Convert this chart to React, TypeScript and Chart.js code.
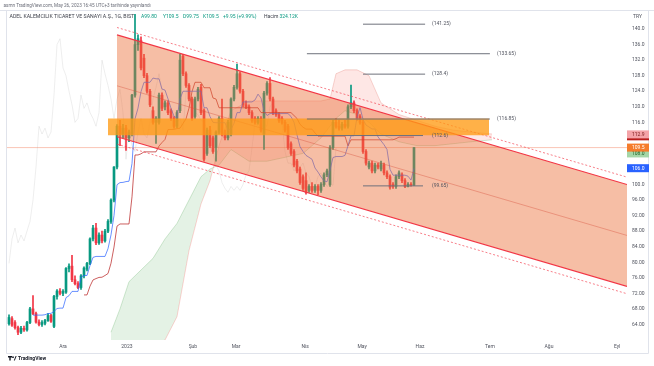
import React, { useEffect, useRef } from 'react';
import { Chart, registerables } from 'chart.js';
Chart.register(...registerables);

// ---- candle data (daily, BIST:ADEL) ----
const opens = [
  64.2,65.5,64.5,63.2,62.0,63.0,62.6,64.5,68.0,66.8,
  64.6,64.0,64.3,65.0,66.3,63.5,71.2,72.6,72.0,72.3,
  78.4,79.0,75.5,74.5,73.5,76.5,78.2,79.7,86.0,88.8,
  85.0,87.0,85.5,88.0,90.5,96.0,104.5,115.0,113.0,114.5,
  112.0,113.0,123.0,136.0,137.0,132.5,128.0,124.0,119.0,116.0,
  116.0,123.0,120.0,121.0,119.0,117.0,115.0,119.0,133.0,128.5,
  125.5,122.0,117.5,122.0,125.0,119.0,108.0,114.0,112.0,109.5,
  113.5,117.0,113.0,112.0,113.0,122.0,125.0,128.5,124.0,120.5,
  120.0,118.5,117.0,116.0,117.0,113.0,123.5,126.0,122.0,119.0,
  118.0,117.0,116.0,115.0,110.5,108.5,106.0,104.0,102.0,101.0,
  98.5,99.5,98.5,99.5,98.5,100.0,102.5,100.0,109.5,116.0,
  115.0,114.5,115.5,115.0,120.0,121.0,119.0,117.5,116.0,108.5,
  104.5,105.5,103.5,105.0,104.0,105.0,103.0,102.0,100.0,99.5,
  102.0,102.5,101.0,99.5,100.0,99.8,
];
const highs = [
  66.5,66.0,65.0,63.6,63.5,63.6,64.8,68.4,71.4,67.2,
  65.2,65.0,65.3,66.8,66.6,71.5,73.0,73.2,73.0,78.6,
  79.6,81.8,76.5,75.0,76.8,78.8,80.0,86.3,89.5,90.0,
  87.6,88.0,88.5,91.0,96.3,104.6,115.4,116.5,115.5,115.2,
  114.0,123.2,143.8,138.5,138.0,133.5,128.6,124.5,120.0,117.5,
  123.5,123.6,121.5,121.5,119.5,117.5,119.0,133.5,133.5,129.0,
  126.0,122.5,122.5,125.0,125.8,119.5,114.5,115.0,112.5,113.8,
  117.5,122.0,114.0,116.5,122.3,125.5,131.0,129.0,124.5,121.5,
  120.5,119.0,117.5,117.5,117.5,124.0,126.5,127.5,122.5,119.5,
  118.5,117.5,116.5,115.5,111.0,109.0,106.5,104.5,102.5,103.0,
  100.0,100.5,100.0,100.0,100.5,103.0,104.0,110.0,116.5,117.0,
  116.5,116.0,116.5,120.5,125.6,121.5,119.5,118.0,116.5,109.0,
  106.0,106.0,105.5,105.5,106.0,105.5,103.5,102.5,100.5,102.5,
  103.5,103.0,101.5,100.5,100.5,109.5,
];
const lows = [
  63.8,63.5,62.8,61.4,61.6,62.2,62.3,64.2,66.5,64.3,
  63.6,63.5,63.9,64.8,64.5,63.2,70.5,71.6,71.4,72.0,
  77.5,75.0,74.2,73.2,73.0,76.0,77.8,79.4,85.5,84.5,
  84.6,85.0,85.2,87.6,90.0,95.5,104.0,110.0,112.0,108.8,
  111.0,112.5,122.5,134.5,129.5,127.5,123.5,120.0,115.5,110.6,
  115.5,119.0,119.2,118.0,116.5,114.5,114.6,118.5,128.0,125.0,
  121.5,116.5,117.0,121.5,118.0,106.0,107.5,109.5,108.0,106.0,
  113.0,112.5,111.5,111.5,112.5,121.5,124.5,123.5,120.0,119.5,
  118.0,116.0,115.5,115.5,113.5,109.0,123.0,121.5,118.0,117.5,
  116.0,115.5,113.5,109.0,107.5,104.5,103.0,100.0,98.5,97.5,
  98.0,98.0,98.0,97.4,98.0,99.5,102.0,99.5,109.0,114.5,
  114.0,114.0,114.5,114.5,119.5,118.5,116.5,115.5,108.0,105.0,
  104.0,103.0,103.0,104.0,103.5,102.5,101.5,98.8,99.0,99.0,
  101.5,100.5,99.2,99.4,99.6,99.75,
];
const closes = [
  65.8,63.8,63.2,62.0,63.0,62.6,64.5,68.0,66.8,64.6,
  64.0,64.5,65.0,66.3,64.8,71.2,72.6,72.0,72.5,78.4,
  79.0,75.5,74.5,73.5,76.5,78.5,79.7,86.0,88.8,85.0,
  87.0,85.5,88.0,90.5,96.0,104.5,115.0,113.0,114.5,112.0,
  113.5,123.0,136.0,137.5,130.0,128.0,124.0,120.5,116.0,117.0,
  123.0,119.6,121.0,118.5,117.0,115.0,118.5,132.0,128.5,125.5,
  122.0,117.0,122.0,124.5,118.5,106.5,114.0,110.0,108.5,113.5,
  117.0,113.0,112.0,116.0,122.0,125.0,128.5,124.0,120.5,120.0,
  118.5,116.5,116.0,117.0,114.0,123.5,126.0,122.0,118.5,118.0,
  116.5,116.0,114.0,109.5,108.0,105.0,103.5,100.5,99.0,98.0,
  99.5,98.5,99.5,98.5,100.0,102.5,103.5,109.5,116.0,115.0,
  114.5,115.5,115.0,120.0,121.0,119.0,117.0,116.0,108.5,105.5,
  105.5,103.5,105.0,104.5,105.5,103.0,102.0,99.3,99.5,102.0,
  103.0,101.0,99.5,100.0,99.8,109.5,
];

// ---- Ichimoku cloud (bar index, price) ----
const cloudIdx = [34,37,40,44,48,52,56,60,64,67,70,74,80,86,92,98,104,107,109,112,116,120,124,130,136,142,148,154,161];
const spanA = [62,68,75,78,81,86,90,96,102,104,105,109,106,106,107,108,112,115,117,119,118,116,113,111,110,110,110.5,111,111.5];
const spanB = [50,52,54,56,58,60,66,83,95,101,110,119,121.5,121.5,121.5,121.5,121.5,122,128.5,129.5,129.5,128,121,118,116.5,115,114,113.5,113];

// ---- axes ----
const monthLabels = ['Ara','2023','Şub','Mar','Nis','May','Haz','Tem','Ağu','Eyl'];
const monthPos = [18, 39.3, 61.3, 75.7, 98.7, 117.7, 137, 160.3, 180, 202.7];
const priceTicks = [64,68,72,76,80,84,88,92,96,100,116,120,124,128,132,136,140];

// ---- drawings ----
const channelX = [36, 206];
const channelUpper = [138.5, 100.0];
const channelLower = [112.3, 73.8];
const channelUpperOuter = [140.4, 101.9];
const channelLowerOuter = [110.4, 71.9];
const bandX = [33, 160];
const bandTop = 117.0;
const bandBottom = 112.7;
const levelValues = [141.25, 133.65, 128.4, 116.85, 112.6, 99.65];
const levelFrom = [118, 99.3, 118, 99.3, 99.3, 118];
const levelTo = [138.7, 160.3, 138.7, 160.3, 138, 138];
const levelLabelX = [141, 162.7, 141, 162.7, 141, 141];
const lastPrice = 109.5;

// right-axis value labels
const axisLabelText = ['112.4', '112.9', '108.0', '109.5', '106.0'];
const axisLabelValue = [112.4, 112.9, 108.0, 109.5, 104.2];
const axisLabelBg = ['#B71C1C', '#F4A3A8', '#A5D6A7', '#F57C2C', '#2962FF'];
const axisLabelFg = ['#B71C1C', '#7A1A1A', '#1B5E20', '#FFFFFF', '#FFFFFF'];

// header legend
const legendParts = ['A99.80', 'Y109.5', 'D99.75', 'K109.5', '+9.95 (+9.99%)'];
const legendX = [141, 163, 183, 203, 223];

const UP = '#089981';
const DOWN = '#F23645';
const FONT = 'Roboto, "DejaVu Sans", sans-serif';

function donchianMid(period: number) {
  return closes.map((_, i) => {
    if (i < period - 1) return { x: i, y: null as number | null };
    let hi = -Infinity;
    let lo = Infinity;
    for (let j = i - period + 1; j <= i; j++) {
      hi = Math.max(hi, highs[j]);
      lo = Math.min(lo, lows[j]);
    }
    return { x: i, y: (hi + lo) / 2 };
  });
}

const seg = (xs: number[], ys: number[]) => xs.map((x, i) => ({ x, y: ys[i] }));

function fitText(ctx: CanvasRenderingContext2D, text: string, width: number, weight = '') {
  ctx.font = `${weight}10px ${FONT}`;
  const w = ctx.measureText(text).width;
  const size = (10 * width) / w;
  ctx.font = `${weight}${size.toFixed(2)}px ${FONT}`;
}

const overlayPlugin = {
  id: 'overlay',
  afterDraw(chart: any) {
    const { ctx, scales } = chart;
    const x = scales.x;
    const y = scales.y;
    ctx.save();
    // frame
    ctx.strokeStyle = '#e0e3eb';
    ctx.lineWidth = 1;
    ctx.beginPath();
    ctx.moveTo(0, 10.5);
    ctx.lineTo(654, 10.5);
    ctx.moveTo(6.5, 10.5);
    ctx.lineTo(6.5, 353.5);
    ctx.lineTo(648.5, 353.5);
    ctx.lineTo(648.5, 10.5);
    ctx.stroke();

    // level labels
    ctx.font = `5px ${FONT}`;
    ctx.fillStyle = '#50535e';
    ctx.textBaseline = 'middle';
    ctx.textAlign = 'left';
    levelValues.forEach((v, i) => {
      const t = '(' + v + ')';
      ctx.fillText(t, x.getPixelForValue(levelLabelX[i]), y.getPixelForValue(v));
    });

    // right-axis labels
    axisLabelText.forEach((t, i) => {
      const cy = y.getPixelForValue(axisLabelValue[i]);
      ctx.fillStyle = axisLabelBg[i];
      ctx.fillRect(627, cy - 4, 22, 8);
      ctx.fillStyle = axisLabelFg[i];
      ctx.font = `5px ${FONT}`;
      ctx.fillText(t, 632, cy + 0.3);
    });
    ctx.fillStyle = '#50535e';
    ctx.font = `5px ${FONT}`;
    ctx.fillText('TRY', 633, 17);

    // header
    ctx.textBaseline = 'middle';
    ctx.fillStyle = '#6a6d78';
    fitText(ctx, 'asmn TradingView.com, May 26, 2023 16:45 UTC+3 tarihinde yayınlandı', 148);
    ctx.fillText('asmn TradingView.com, May 26, 2023 16:45 UTC+3 tarihinde yayınlandı', 3.5, 5.5);
    ctx.fillStyle = '#3b3e48';
    fitText(ctx, 'ADEL KALEMCILIK TICARET VE SANAYI A.Ş., 1G, BIST', 125);
    ctx.fillText('ADEL KALEMCILIK TICARET VE SANAYI A.Ş., 1G, BIST', 9.5, 17);
    ctx.font = `5px ${FONT}`;
    ctx.fillStyle = UP;
    legendParts.forEach((t, i) => ctx.fillText(t, legendX[i], 17));
    ctx.fillStyle = '#3b3e48';
    ctx.fillText('Hacim', 264, 17);
    ctx.fillStyle = UP;
    ctx.fillText('324.12K', 279.5, 17);

    // TradingView logo
    ctx.fillStyle = '#131722';
    ctx.fillRect(8, 356, 4, 1.5);
    ctx.fillRect(9.3, 356, 1.4, 4.5);
    ctx.beginPath();
    ctx.arc(13, 357.2, 0.9, 0, Math.PI * 2);
    ctx.fill();
    ctx.beginPath();
    ctx.moveTo(13.8, 360.5);
    ctx.lineTo(15.6, 356);
    ctx.lineTo(16.6, 356);
    ctx.lineTo(14.8, 360.5);
    ctx.fill();
    ctx.font = `bold 5px ${FONT}`;
    ctx.fillText('TradingView', 18, 358.5);
    ctx.restore();
  },
};

export default function App() {
  const ref = useRef<HTMLCanvasElement>(null);
  useEffect(() => {
    document.body.style.margin = '0';
    const canvas = ref.current!;
    const candleColors = closes.map((c, i) => (c >= opens[i] ? UP : DOWN));
    const tenkan = donchianMid(9);
    const kijun = donchianMid(26);
    const chikou = closes.map((c, i) => ({ x: i - 26, y: c })).filter((p) => p.x >= 0);

    const mid = [(channelUpper[0] + channelLower[0]) / 2, (channelUpper[1] + channelLower[1]) / 2];

    const lineBase = { type: 'line' as const, pointRadius: 0, tension: 0, fill: false };

    const datasets: any[] = [
      { ...lineBase, label: 'price', data: [{ x: -1, y: lastPrice }, { x: 207, y: lastPrice }], borderColor: 'rgba(242,110,70,0.4)', borderWidth: 1, order: 30 },
      { ...lineBase, label: 'chikou', data: chikou, borderColor: 'rgba(160,160,160,0.18)', borderWidth: 1, order: 29 },
      { ...lineBase, label: 'spanB', data: seg(cloudIdx, spanB), borderColor: 'rgba(239,83,80,0.3)', borderWidth: 0.8, order: 28 },
      { ...lineBase, label: 'spanA', data: seg(cloudIdx, spanA), borderColor: 'rgba(67,160,71,0.3)', borderWidth: 0.8, order: 27,
        fill: { target: 2, above: 'rgba(67,160,71,0.14)', below: 'rgba(244,67,54,0.13)' } },
      { type: 'bar', label: 'wick', data: highs.map((h, i) => ({ x: i, y: [lows[i], h] })), backgroundColor: candleColors, barThickness: 1, grouped: false, minBarLength: 1, order: 25 },
      { type: 'bar', label: 'body', data: opens.map((o, i) => ({ x: i, y: [Math.min(o, closes[i]), Math.max(o, closes[i])] })), backgroundColor: candleColors, barThickness: 2, grouped: false, minBarLength: 1, order: 24 },
      { ...lineBase, label: 'tenkan', data: tenkan, borderColor: 'rgba(41,98,255,0.7)', borderWidth: 1, order: 22 },
      { ...lineBase, label: 'kijun', data: kijun, borderColor: 'rgba(183,28,28,0.7)', borderWidth: 1, order: 22 },
      { ...lineBase, label: 'chUpper', data: seg(channelX, channelUpper), borderColor: '#F23645', borderWidth: 1.2, order: 18 },
      { ...lineBase, label: 'chLower', data: seg(channelX, channelLower), borderColor: '#F23645', borderWidth: 1.2, order: 19,
        fill: { target: 8, above: 'rgba(236,110,55,0.45)', below: 'rgba(236,110,55,0.45)' } },
      { ...lineBase, label: 'chMid', data: seg(channelX, mid), borderColor: 'rgba(214,80,60,0.5)', borderWidth: 0.8, order: 18 },
      { ...lineBase, label: 'chUpperOuter', data: seg(channelX, channelUpperOuter), borderColor: 'rgba(242,54,69,0.8)', borderWidth: 0.8, borderDash: [2, 2], order: 18 },
      { ...lineBase, label: 'chLowerOuter', data: seg(channelX, channelLowerOuter), borderColor: 'rgba(242,54,69,0.8)', borderWidth: 0.8, borderDash: [2, 2], order: 18 },
      { ...lineBase, label: 'bandTop', data: seg(bandX, [bandTop, bandTop]), borderWidth: 0, borderColor: 'rgba(0,0,0,0)', order: 15 },
      { ...lineBase, label: 'bandBottom', data: seg(bandX, [bandBottom, bandBottom]), borderWidth: 0, borderColor: 'rgba(0,0,0,0)', order: 15,
        fill: { target: 13, above: 'rgba(255,155,20,0.78)', below: 'rgba(255,155,20,0.78)' } },
    ];
    levelValues.forEach((v, i) => {
      datasets.push({ ...lineBase, label: 'lvl' + i, data: [{ x: levelFrom[i], y: v }, { x: levelTo[i], y: v }], borderColor: '#6e717c', borderWidth: 1, order: 10 });
    });

    const chart = new Chart(canvas, {
      type: 'bar',
      data: { datasets },
      plugins: [overlayPlugin],
      options: {
        responsive: false,
        animation: false,
        devicePixelRatio: 1,
        layout: { padding: { left: 7, right: 5, top: 10, bottom: 13 } },
        plugins: { legend: { display: false }, tooltip: { enabled: false } },
        scales: {
          x: {
            type: 'linear',
            min: -0.667,
            max: 206,
            offset: false,
            grid: { display: false, drawTicks: false },
            border: { display: false },
            ticks: {
              autoSkip: false,
              maxRotation: 0,
              padding: 4,
              color: '#50535e',
              font: { size: 5, family: FONT },
              callback: (_v: any, i: number) => monthLabels[i] ?? '',
            },
            afterBuildTicks: (s: any) => { s.ticks = monthPos.map((v) => ({ value: v })); },
            afterFit: (s: any) => { s.height = 13; },
          },
          y: {
            type: 'linear',
            position: 'right',
            min: 60.0,
            max: 144.9,
            grid: { display: false, drawTicks: false },
            border: { display: false },
            ticks: {
              padding: 5,
              color: '#50535e',
              font: { size: 5, family: FONT },
              callback: (v: any) => Number(v).toPrecision(4),
            },
            afterBuildTicks: (s: any) => { s.ticks = priceTicks.map((v) => ({ value: v })); },
            afterFit: (s: any) => { s.width = 22; },
          },
        },
      } as any,
    });
    return () => chart.destroy();
  }, []);
  return (
    <div style={{ position: 'absolute', left: 0, top: 0, width: 654, height: 366, background: '#fff' }}>
      <canvas ref={ref} width={654} height={366} style={{ width: 654, height: 366, display: 'block' }} />
    </div>
  );
}
